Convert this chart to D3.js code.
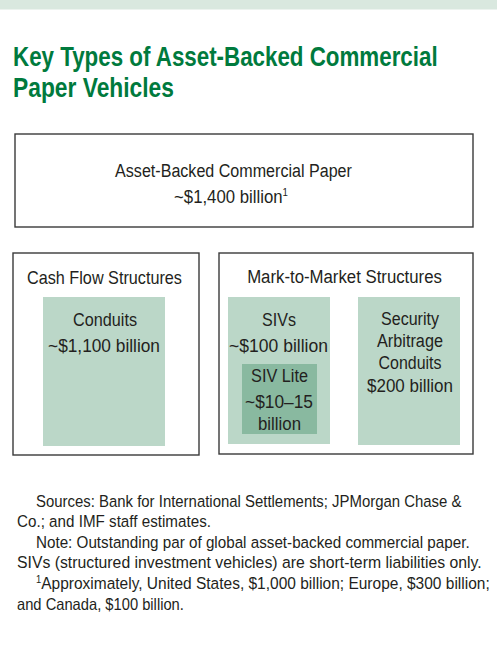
<!DOCTYPE html>
<html>
<head>
<meta charset="utf-8">
<script src="https://cdn.jsdelivr.net/npm/d3@7"></script>
<style>
  html, body { margin: 0; padding: 0; background: #fff; }
  svg { display: block; }
</style>
</head>
<body>
<div id="chart"></div>
<script>
// ---- data ----
const titleLines = ["Key Types of Asset-Backed Commercial", "Paper Vehicles"];
const totalLabel = "Asset-Backed Commercial Paper";
const totalValue = "~$1,400 billion";
const totalNote = "1";
const groupNames = ["Cash Flow Structures", "Mark-to-Market Structures"];
const vehicleNames = ["Conduits", "SIVs", "SIV Lite", "Security Arbitrage Conduits"];
const vehicleValues = ["~$1,100 billion", "~$100 billion", "~$10–15 billion", "$200 billion"];
const noteLines = [
  "Sources: Bank for International Settlements; JPMorgan Chase &",
  "Co.; and IMF staff estimates.",
  "Note: Outstanding par of global asset-backed commercial paper.",
  "SIVs (structured investment vehicles) are short-term liabilities only.",
  "1Approximately, United States, $1,000 billion; Europe, $300 billion;",
  "and Canada, $100 billion."
];

// ---- layout / style ----
const W = 497, H = 652;
const FONT = "'Liberation Sans', Arial, sans-serif";
const TEXT = "#231f20";
const GREEN = "#007a3d";
const BAND = "#d9e8df";
const LIGHT = "#bbd7c8";
const DARK = "#89b9a0";
const STROKE = "#3a3a3a";

const svg = d3.select("#chart").append("svg")
  .attr("width", W).attr("height", H)
  .attr("viewBox", [0, 0, W, H]);

svg.append("rect").attr("x", 0).attr("y", 0).attr("width", W).attr("height", 9.5).attr("fill", BAND);

// place a text at (x,y) and squeeze it horizontally to a target width (condensed face)
function place(sel, x, y, target) {
  const w = sel.node().getComputedTextLength();
  const k = (target && w > 0) ? target / w : 1;
  sel.attr("x", 0).attr("y", 0)
    .attr("transform", `translate(${x},${y}) scale(${k},1)`);
  return sel;
}

// title
const titleLayout = [{ x: 13, y: 66, w: 425 }, { x: 13, y: 97, w: 161 }];
titleLines.forEach((t, i) => {
  const s = svg.append("text")
    .attr("font-family", FONT).attr("font-weight", "bold")
    .attr("font-size", 27).attr("fill", GREEN).text(t);
  place(s, titleLayout[i].x, titleLayout[i].y, titleLayout[i].w);
});

// boxes
function box(x0, y0, x1, y1, fill, stroke) {
  svg.append("rect").attr("x", x0).attr("y", y0)
    .attr("width", x1 - x0).attr("height", y1 - y0)
    .attr("fill", fill).attr("stroke", stroke || "none")
    .attr("stroke-width", stroke ? 1.4 : 0);
}
function label(txt, cx, y, size, w) {
  const s = svg.append("text")
    .attr("text-anchor", "middle").attr("font-family", FONT)
    .attr("font-size", size).attr("fill", TEXT).text(txt);
  return place(s, cx, y, w);
}

// top box
box(15, 134, 473, 227, "#fff", STROKE);
label(totalLabel, 233.5, 177, 19, 237);
{
  const s = svg.append("text")
    .attr("text-anchor", "middle").attr("font-family", FONT)
    .attr("font-size", 19).attr("fill", TEXT);
  s.append("tspan").text(totalValue);
  s.append("tspan").attr("font-size", 11).attr("dy", -7).text(totalNote);
  place(s, 231, 203, 114);
}

// group boxes
box(13, 253, 199, 455, "#fff", STROKE);
box(219, 253, 473, 454, "#fff", STROKE);
label(groupNames[0], 104.5, 284, 19, 155);
label(groupNames[1], 344.5, 283, 19, 195);

// Conduits
box(43, 297, 165, 446, LIGHT);
label(vehicleNames[0], 105, 326, 19, 64);
label(vehicleValues[0], 104, 352, 19, 112);

// SIVs
box(228, 297, 330, 444, LIGHT);
label(vehicleNames[1], 279, 326, 19, 34);
label(vehicleValues[1], 278.5, 352, 19, 99);

// SIV Lite
box(242, 364, 317, 434, DARK);
label(vehicleNames[2], 279.5, 382, 19, 57);
const liteParts = vehicleValues[2].split(" ");
label(liteParts[0], 279, 408, 19, 68);
label(liteParts[1], 279.5, 430, 19, 43);

// Security Arbitrage Conduits
box(358, 297, 460, 445, LIGHT);
const secLines = vehicleNames[3].split(" ").concat([vehicleValues[3]]);
const secW = [58, 66, 63, 86];
const secY = [325, 347, 369, 392];
secLines.forEach((t, i) => label(t, 410, secY[i], 19, secW[i]));

// notes
const noteLayout = [
  { x: 36, y: 507, w: 426 },
  { x: 17, y: 527, w: 194 },
  { x: 36, y: 548, w: 434 },
  { x: 17, y: 568, w: 465 },
  { x: 36, y: 589, w: 454 },
  { x: 17, y: 610, w: 167 }
];
noteLines.forEach((t, i) => {
  const s = svg.append("text")
    .attr("font-family", FONT).attr("font-size", 16.5).attr("fill", TEXT);
  if (i === 4) {
    s.append("tspan").attr("font-size", 10).attr("dy", -6).text(t.slice(0, 1));
    s.append("tspan").attr("font-size", 16.5).attr("dy", 6).text(t.slice(1));
  } else {
    s.text(t);
  }
  place(s, noteLayout[i].x, noteLayout[i].y, noteLayout[i].w);
});
</script>
</body>
</html>
